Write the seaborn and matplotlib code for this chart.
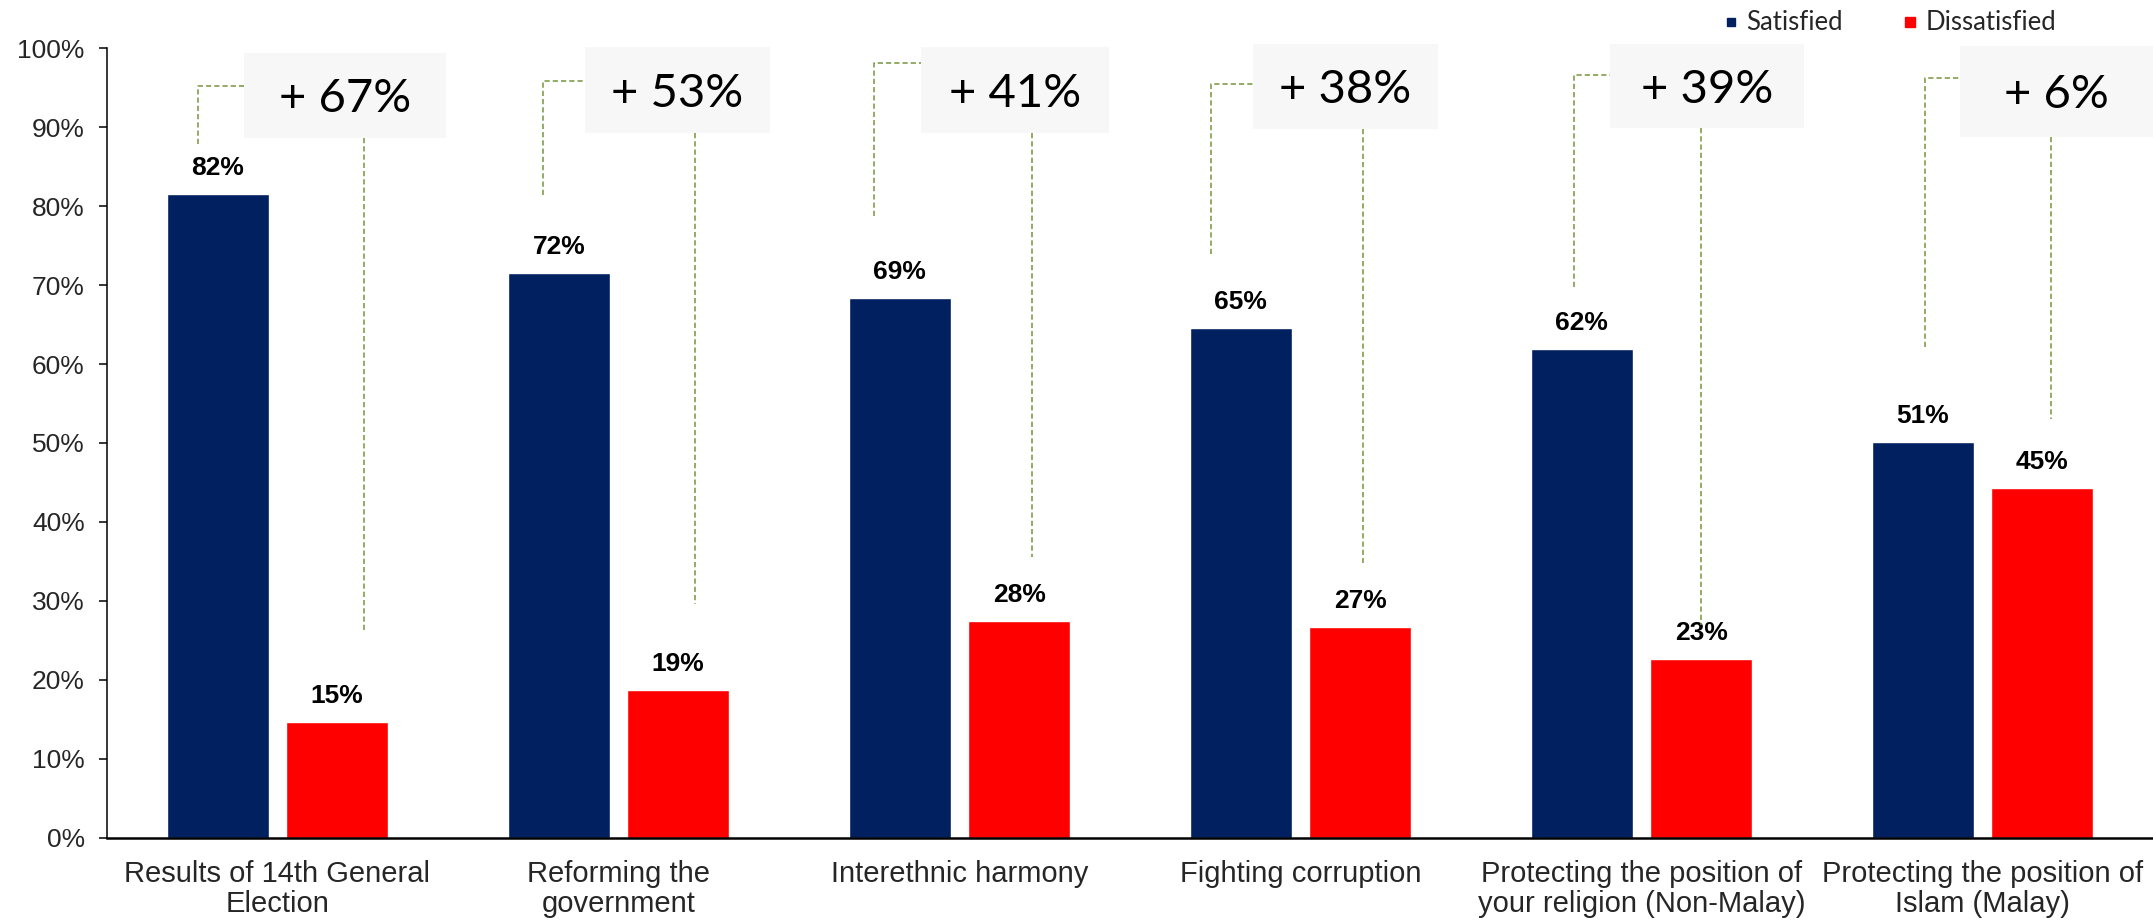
import matplotlib
matplotlib.use("Agg")
import matplotlib.pyplot as plt
import matplotlib.patches as mpatches
from matplotlib.lines import Line2D
from matplotlib.ticker import FuncFormatter
import seaborn as sns
import pandas as pd

# ---------------- data ----------------
categories = [
    "Results of 14th General\nElection",
    "Reforming the\ngovernment",
    "Interethnic harmony",
    "Fighting corruption",
    "Protecting the position of\nyour religion (Non-Malay)",
    "Protecting the position of\nIslam (Malay)",
]
series_names = ["Satisfied", "Dissatisfied"]
satisfied = [81.6, 71.6, 68.4, 64.6, 61.9, 50.1]
dissatisfied = [14.7, 18.7, 27.5, 26.7, 22.6, 44.3]
satisfied_labels = ["82%", "72%", "69%", "65%", "62%", "51%"]
dissatisfied_labels = ["15%", "19%", "28%", "27%", "23%", "45%"]
gap_labels = ["+ 67%", "+ 53%", "+ 41%", "+ 38%", "+ 39%", "+ 6%"]

# ---------------- annotation layout (data units, offsets from category centre) ----------------
box_x0 = [-0.098, -0.098, -0.113, -0.139, -0.092, -0.066]
box_x1 = [0.494, 0.444, 0.438, 0.403, 0.477, 0.500]
box_y0 = [88.7, 89.3, 89.3, 89.8, 89.9, 88.8]
box_y1 = [99.4, 100.2, 100.2, 100.6, 100.6, 100.3]
left_x = [-0.233, -0.222, -0.251, -0.262, -0.198, -0.169]
left_top = [95.3, 95.9, 98.2, 95.5, 96.6, 96.2]
left_bottom = [87.9, 81.4, 78.8, 73.9, 69.8, 62.2]
right_x = [0.254, 0.224, 0.213, 0.183, 0.174, 0.201]
right_bottom = [25.9, 29.6, 35.6, 34.8, 26.9, 53.0]

NAVY = "#002060"
RED = "#FF0000"
GREEN = "#77933C"
BOXGRAY = "#F7F7F7"

df = pd.DataFrame({
    "category": categories * 2,
    "status": [series_names[0]] * len(categories) + [series_names[1]] * len(categories),
    "value": satisfied + dissatisfied,
})

sns.set_style("white")
plt.rcParams["font.family"] = ["Liberation Sans", "DejaVu Sans"]

W, H = 2153, 921
fig = plt.figure(figsize=(W / 100, H / 100), dpi=100)
ax = fig.add_axes([107 / W, (H - 837.5) / H, (W - 107) / W, (837.5 - 48.5) / H])

sns.barplot(data=df, x="category", y="value", hue="status", order=categories,
            hue_order=series_names, palette=[NAVY, RED], saturation=1,
            width=0.7, gap=0.14, legend=False, ax=ax, zorder=2)

ax.set_xlim(-0.5, len(categories) - 0.5)
ax.set_ylim(0, 100)
ax.set_yticks(range(0, 101, 10))
ax.yaxis.set_major_formatter(FuncFormatter(lambda v, p: f"{v:.0f}%"))
ax.set_xlabel("")
ax.set_ylabel("")

for s in ["top", "right"]:
    ax.spines[s].set_visible(False)
ax.spines["left"].set_linewidth(1.1)
ax.spines["left"].set_color("black")
ax.spines["bottom"].set_linewidth(1.8)
ax.spines["bottom"].set_color("black")

ax.tick_params(axis="y", which="major", length=6, width=1.1, color="black",
               direction="out", pad=10, labelsize=19, left=True)
ax.tick_params(axis="x", length=0, pad=16, labelsize=21)
for lab in ax.get_xticklabels():
    lab.set_linespacing(1.12)

# bar value labels
for cont, labs in zip(ax.containers, [satisfied_labels, dissatisfied_labels]):
    ax.bar_label(cont, labels=labs, padding=10, fontsize=19, fontweight="bold",
                 color="black")

# difference annotations
for i, txt in enumerate(gap_labels):
    dash = dict(color=GREEN, lw=1.1, ls=(0, (3.4, 2.0)), clip_on=False, zorder=3)
    ax.plot([i + left_x[i], i + left_x[i], i + box_x0[i]],
            [left_bottom[i], left_top[i], left_top[i]], **dash)
    ax.plot([i + right_x[i], i + right_x[i]], [box_y0[i], right_bottom[i]], **dash)
    rect = mpatches.Rectangle((i + box_x0[i], box_y0[i]), box_x1[i] - box_x0[i],
                              box_y1[i] - box_y0[i], facecolor=BOXGRAY,
                              edgecolor="none", clip_on=False, zorder=4)
    ax.add_patch(rect)
    ax.annotate(txt, xy=(i + (box_x0[i] + box_x1[i]) / 2, (box_y0[i] + box_y1[i]) / 2),
                xytext=(0, -12.2), textcoords="offset points", ha="center",
                va="baseline", fontsize=34, family=["Lato", "DejaVu Sans"],
                color="black", zorder=5, annotation_clip=False)

# legend
handles = [Line2D([], [], marker="s", ls="none", color=NAVY, markersize=6),
           Line2D([], [], marker="s", ls="none", color=RED, markersize=7)]
leg = fig.legend(handles, series_names, loc="center right",
                 bbox_to_anchor=(2056 / W, 1 - 23 / H), ncol=2, frameon=False,
                 prop={"family": ["Lato", "DejaVu Sans"], "size": 18.5},
                 handlelength=0.8, handletextpad=0.2, columnspacing=2.2,
                 borderpad=0, borderaxespad=0)

fig.savefig("out.png", dpi=100)
